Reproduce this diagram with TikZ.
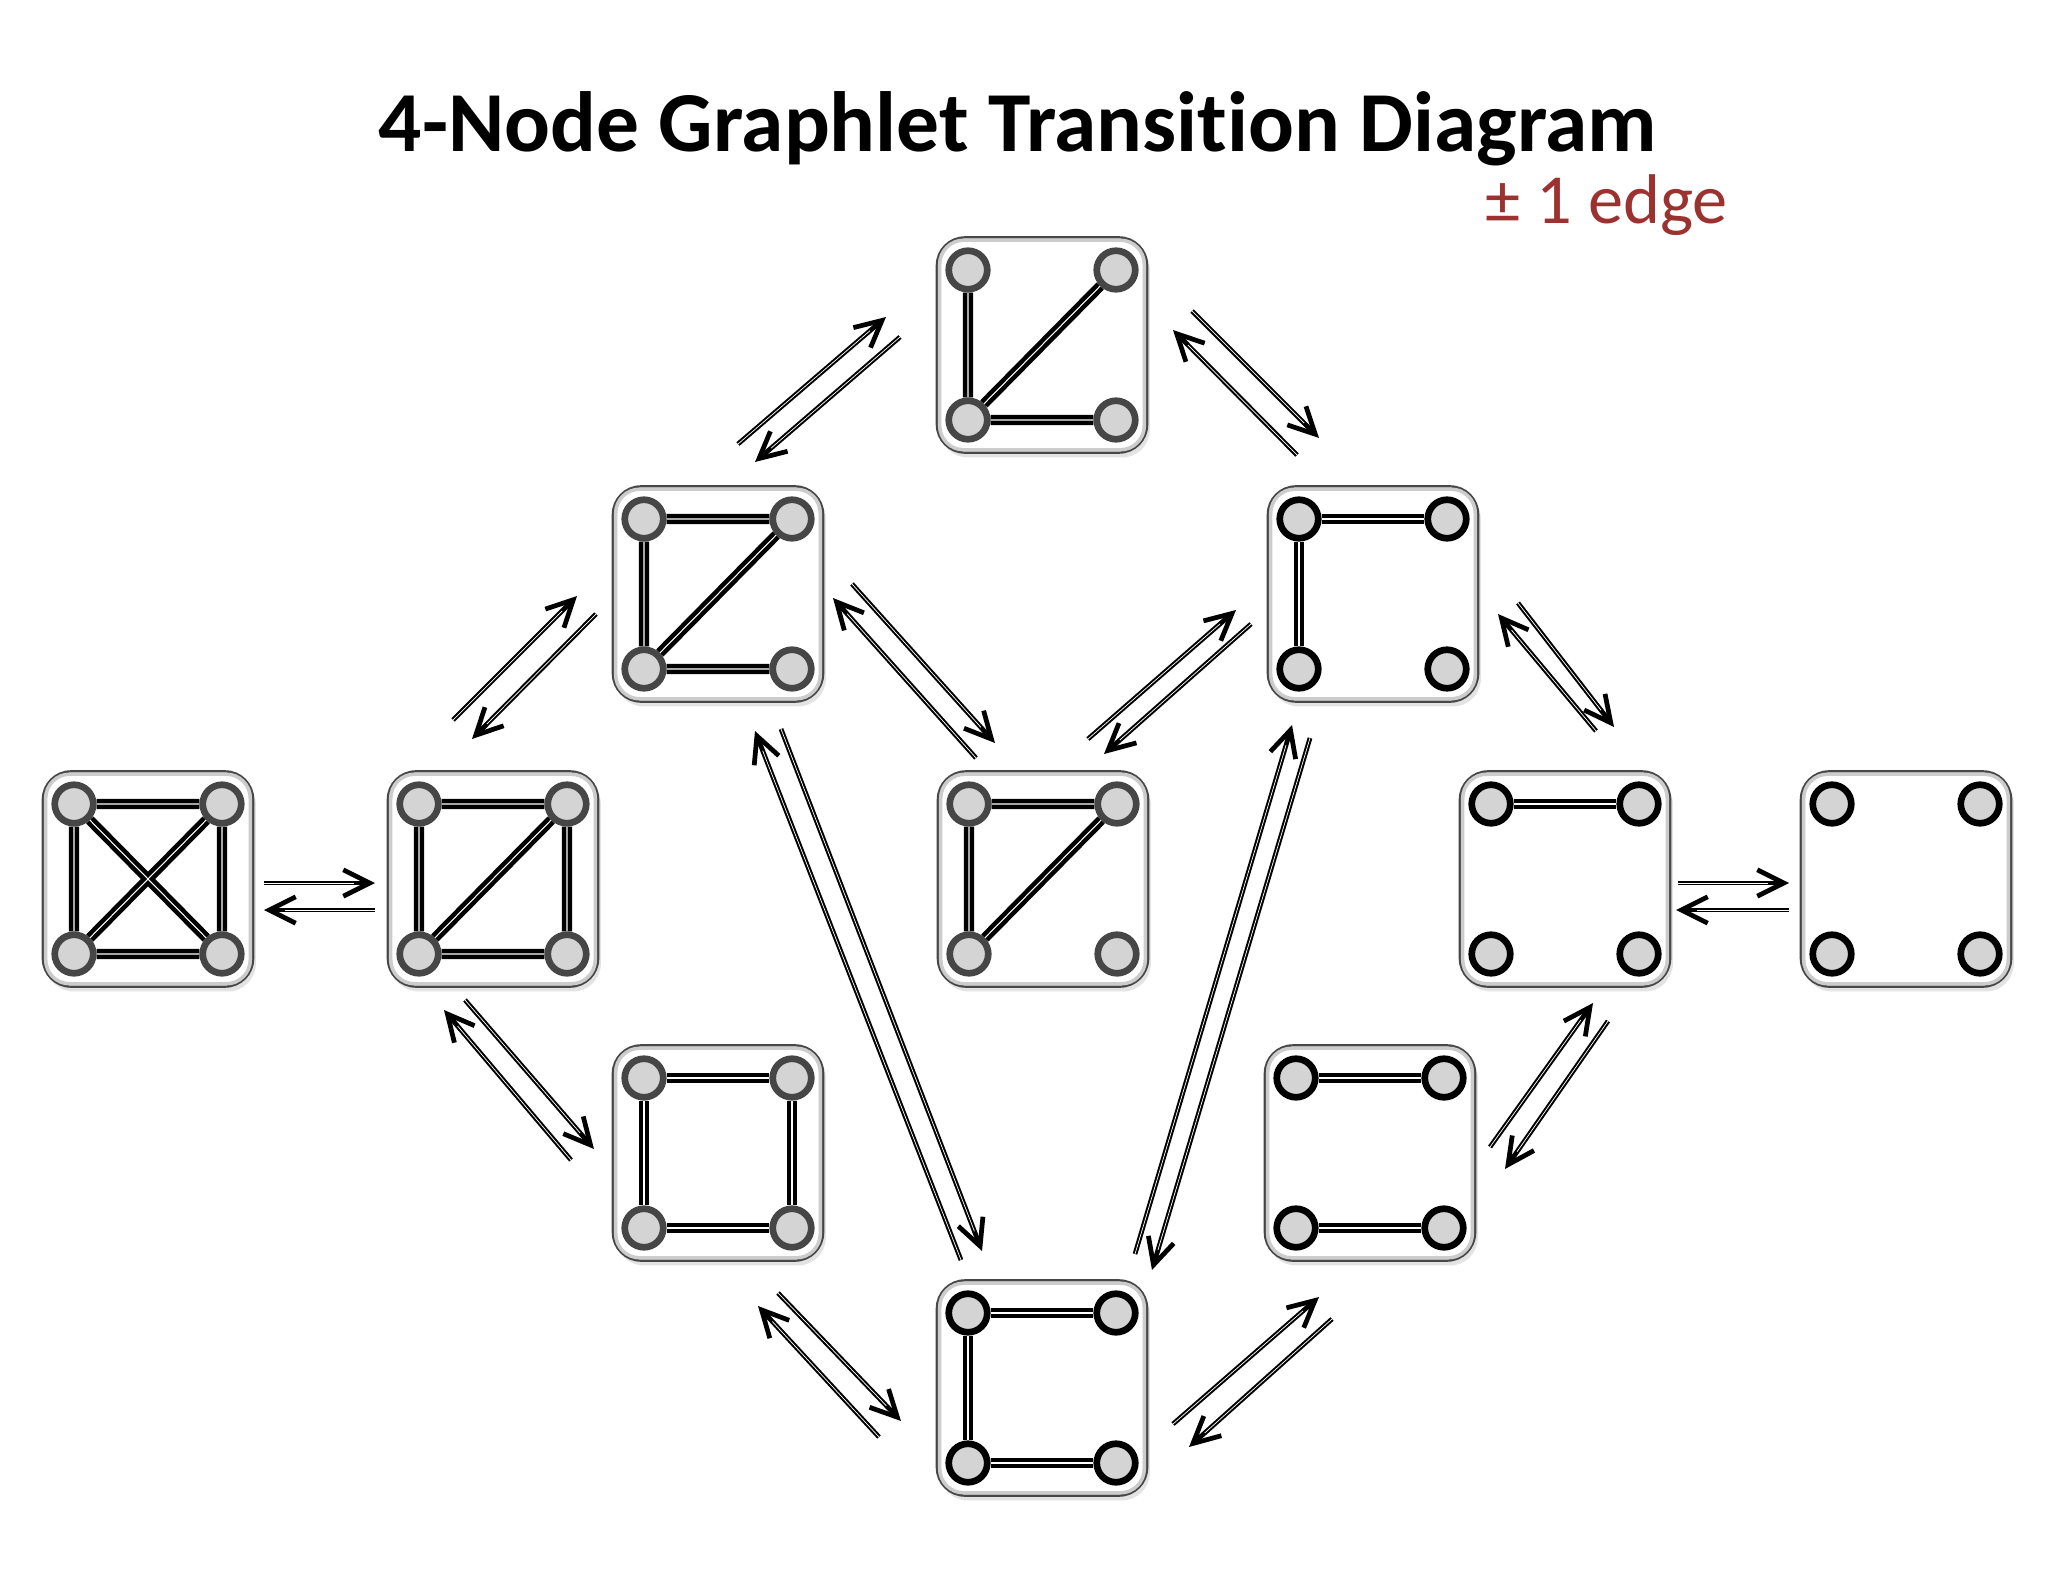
\documentclass[tikz,border=0pt]{standalone}
\usepackage{fontspec}
\setmainfont[Ligatures=NoCommon]{Carlito}
\usepackage{tikz}
\usetikzlibrary{arrows.meta,shadows}
\definecolor{vtxgray}{RGB}{212,212,212}
\definecolor{rimgray}{RGB}{70,70,70}
\definecolor{edgered}{RGB}{155,50,48}
\tikzstyle{gbox} = [rectangle, rounded corners=0.28cm, minimum width=2.1cm, minimum height=2.15cm, draw=black!72, line width=0.7pt, fill=white, drop shadow={shadow xshift=0.8pt, shadow yshift=-1.4pt, opacity=0.22}]
\tikzstyle{gboxin} = [rounded corners=0.24cm, draw=black!20, line width=1pt]
\tikzstyle{vtx} = [circle, minimum size=0.385cm, inner sep=0pt, fill=vtxgray, draw=rimgray, line width=1.9pt]
\tikzstyle{vtxb} = [vtx, draw=black]
\tikzstyle{gedge} = [line width=1.3pt, double=white, double distance=0.3pt]
\tikzstyle{trans} = [line width=1.35pt, -{Straight Barb[length=7.5pt,width=7.5pt]}]
\tikzstyle{transline} = [white, line width=0.2pt, shorten >=6pt]
% box with four vertices a (top left), b (top right), c (bottom left), d (bottom right)
\newcommand{\glet}[4]{%
  \node[gbox] (#1) at (#2,#3) {};
  \draw[gboxin] ([shift={(4,4)}]#1.north west) rectangle ([shift={(-4,-4)}]#1.south east);
  \node[#4] (#1a) at ([shift={(-74,-75)}]#1.center) {};
  \node[#4] (#1b) at ([shift={(74,-75)}]#1.center) {};
  \node[#4] (#1c) at ([shift={(-74,75)}]#1.center) {};
  \node[#4] (#1d) at ([shift={(74,75)}]#1.center) {};
}
% one arrow of a pair, black shaft with a thin white stripe
\newcommand{\trans}[2]{%
  \draw[trans] (#1) -- (#2);
  \draw[transline] (#1) -- (#2);
}
\begin{document}
\begin{tikzpicture}[x=0.01cm, y=-0.01cm]
\fill[white] (0,0) rectangle (2048,1582);
\useasboundingbox (0,0) rectangle (2048,1582);

% title
\node[anchor=base, font=\bfseries\fontsize{24.3}{29}\selectfont] (title) at (1018,152) {4-Node Graphlet Transition Diagram};
\node[anchor=base west, inner sep=0pt, text=edgered, font=\fontsize{20}{24}\selectfont] (pm) at (1485,224) {± 1 edge};

% graphlets
\glet{top}{1042}{345}{vtx}
\glet{paw}{718}{594}{vtx}
\glet{pthree}{1373}{594}{vtxb}
\glet{kfour}{148}{879}{vtx}
\glet{diamond}{493}{879}{vtx}
\glet{tri}{1043}{879}{vtx}
\glet{one}{1565}{879}{vtxb}
\glet{none}{1906}{879}{vtxb}
\glet{square}{718}{1153}{vtx}
\glet{twoedge}{1370}{1153}{vtxb}
\glet{pfour}{1042}{1388}{vtxb}

% edges
\draw[gedge] (topa) -- (topc) (topc) -- (topb) (topc) -- (topd);
\draw[gedge] (pawa) -- (pawb) (pawa) -- (pawc) (pawc) -- (pawb) (pawc) -- (pawd);
\draw[gedge] (pthreea) -- (pthreeb) (pthreea) -- (pthreec);
\draw[gedge] (kfoura) -- (kfourb) (kfoura) -- (kfourc) (kfourb) -- (kfourd) (kfourc) -- (kfourd) (kfoura) -- (kfourd) (kfourb) -- (kfourc);
\draw[gedge] (diamonda) -- (diamondb) (diamonda) -- (diamondc) (diamondb) -- (diamondd) (diamondc) -- (diamondd) (diamondc) -- (diamondb);
\draw[gedge] (tria) -- (trib) (tria) -- (tric) (tric) -- (trib);
\draw[gedge] (onea) -- (oneb);
\draw[gedge] (squarea) -- (squareb) (squareb) -- (squared) (squared) -- (squarec) (squarec) -- (squarea);
\draw[gedge] (twoedgea) -- (twoedgeb) (twoedgec) -- (twoedged);
\draw[gedge] (pfoura) -- (pfourb) (pfoura) -- (pfourc) (pfourc) -- (pfourd);

% transitions (add / remove one edge)
\trans{738,444}{886,317}
\trans{900,337}{755,462}
\trans{1297,455}{1173,330}
\trans{1192,311}{1319,438}
\trans{453,720}{577,596}
\trans{596,614}{472,739}
\trans{976,758}{833,598}
\trans{852,584}{995,743}
\trans{1088,739}{1236,610}
\trans{1251,624}{1104,754}
\trans{1596,731}{1498,614}
\trans{1518,603}{1614,727}
\trans{264,883}{375,883}
\trans{375,910}{264,910}
\trans{1678,883}{1789,883}
\trans{1789,910}{1676,910}
\trans{571,1160}{444,1010}
\trans{465,1000}{594,1149}
\trans{961,1260}{755,731}
\trans{781,729}{982,1251}
\trans{1135,1254}{1292,725}
\trans{1310,738}{1152,1270}
\trans{879,1437}{758,1306}
\trans{778,1293}{901,1421}
\trans{1173,1424}{1319,1297}
\trans{1332,1319}{1189,1447}
\trans{1490,1147}{1593,1003}
\trans{1608,1021}{1505,1169}
\end{tikzpicture}
\end{document}
